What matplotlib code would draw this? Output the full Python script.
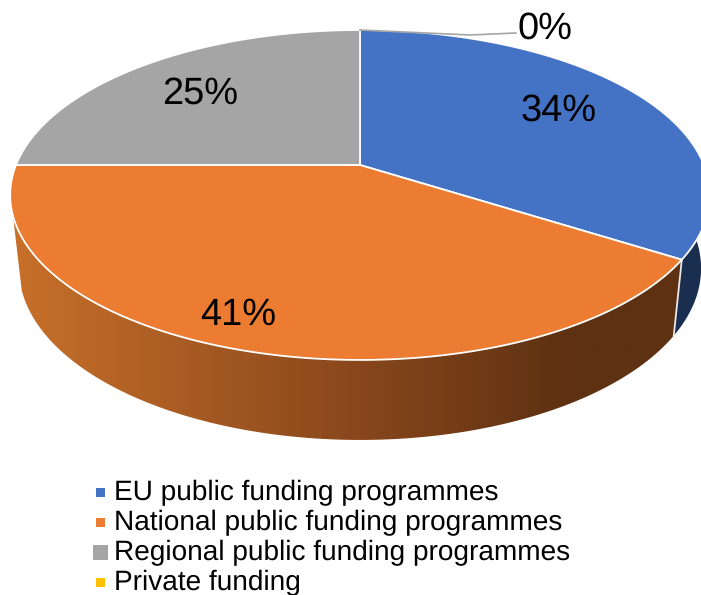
import numpy as np
import matplotlib
matplotlib.use("Agg")
import matplotlib.pyplot as plt
from matplotlib.colors import LinearSegmentedColormap
from matplotlib.patches import Polygon, Rectangle

plt.rcParams['font.family'] = ['Liberation Sans', 'DejaVu Sans']
plt.rcParams['text.hinting'] = 'none'
plt.rcParams['text.hinting_factor'] = 1

categories = ["EU public funding programmes", "National public funding programmes",
              "Regional public funding programmes", "Private funding"]
values = [34, 41, 25, 0]
labels = ["34%", "41%", "25%", "0%"]
colors = ["#4472C4", "#EC7C31", "#A5A5A5", "#FFC000"]

W, H = 701, 595
fig = plt.figure(figsize=(W / 100, H / 100), dpi=100)
ax = fig.add_axes([0, 0, 1, 1])
ax.axis("off")

CX, CY, A, B, K = 360, 165, 344, 159.5, 0.1818
SX, SY, DY = 0.975, 1.04, 72.2


def proj(theta):
    X, Y = np.sin(theta), np.cos(theta)
    d = 1 + K * Y
    return CX + A * X / d, CY - B * Y / d


def lower(x, y):
    return CX + (x - CX) * SX, CY + (y - CY) * SY + DY


fr = np.array(values, float) / sum(values)
edges = np.concatenate([[0], np.cumsum(fr) * 2 * np.pi])

# side walls: blue slice (visible part) and orange slice
side_maps = [
    LinearSegmentedColormap.from_list("b", ["#1A2E50", "#1A2E50"]),
    LinearSegmentedColormap.from_list(
        "o", [(0, "#C8702A"), (0.5, "#8A481C"), (0.83, "#5E3112"), (1, "#5E3112")]),
]
ranges = [(np.radians(90), edges[1]), (edges[1], np.radians(252.4))]
for i, (t0, t1) in enumerate(ranges):
    t = np.linspace(t0, t1, 300)
    x, y = proj(t)
    xl, yl = lower(x, y)
    pts = np.r_[np.c_[x, y], np.c_[xl[::-1], yl[::-1]]]
    poly = Polygon(pts, closed=True, fc="none", ec="none")
    ax.add_patch(poly)
    g = np.linspace(0, 1, 256)[None, :]
    im = ax.imshow(g, cmap=side_maps[i], extent=[pts[:, 0].min(), pts[:, 0].max(),
                                                 pts[:, 1].max(), pts[:, 1].min()],
                   aspect="auto", zorder=1)
    im.set_clip_path(poly)
ax.set_xlim(0, W)
ax.set_ylim(H, 0)

# white seam between the blue and orange walls
sx, sy = proj(edges[1])
lx_, ly_ = lower(sx, sy)
ax.plot([sx, lx_], [sy, ly_], color="#E8E8E8", lw=1.3, zorder=2)

# top slices
for i, c in enumerate(colors):
    if fr[i] == 0:
        continue
    t = np.linspace(edges[i], edges[i + 1], 200)
    x, y = proj(t)
    ax.add_patch(Polygon(np.r_[[[CX, CY]], np.c_[x, y]], closed=True, fc=c, ec="white",
                         lw=1.3, zorder=3, joinstyle="round"))

# data labels
label_pos = [(559, 111), (238, 315), (200, 94), (545, 29)]
for (lx, ly), s in zip(label_pos, labels):
    ax.text(lx, ly, s, fontsize=27, ha="center", va="center", color="black", zorder=5)
ax.plot([360, 470, 516], [30, 35, 33], color="#A5A5A5", lw=1.2, zorder=4)

# legend
leg_y = [492.5, 522.5, 552.5, 582.5]
sq = [9, 9, 15, 9]
for yy, c, s, n in zip(leg_y, colors, categories, sq):
    ax.add_patch(Rectangle((100.5 - n / 2, yy - n / 2), n, n, fc=c, ec="none", zorder=5))
    ax.text(113.5, yy + 0.5, s, fontsize=20.15, ha="left", va="center", color="black", zorder=5)

fig.savefig("out.png", dpi=100)
